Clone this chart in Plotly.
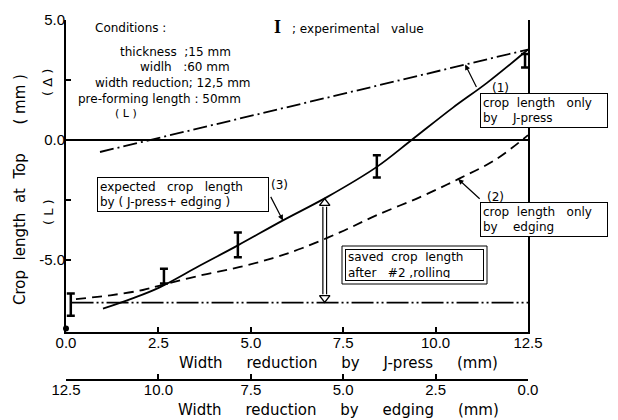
import plotly.graph_objects as go

# ---------------- data ----------------
jpress_ticks = [0, 2.5, 5, 7.5, 10, 12.5]
jpress_tick_labels = ["0.0", "2.5", "5.0", "7.5", "10.0", "12.5"]
edging_ticks = [12.5, 10, 7.5, 5, 2.5, 0]
edging_tick_labels = ["12.5", "10.0", "7.5", "5.0", "2.5", "0.0"]
y_ticks = [-5, -2.5, 0, 2.5, 5]
y_tick_labels = ["-5.0", "", "0.0", "", "5.0"]

# (1) crop length only by J-press (dash-dot)
jpress_x = [0.92, 12.5]
jpress_y = [-0.5, 3.77]

# (2) crop length only by edging (dashed)
edging_x = [0.27, 1.2, 2.08, 2.7, 3.7, 4.68, 5.6, 6.4, 7.41, 8.41, 9.58, 10.61, 11.61, 12.5]
edging_y = [-6.63, -6.47, -6.25, -6.0, -5.62, -5.3, -4.92, -4.5, -3.85, -3.13, -2.38, -1.63, -0.83, 0.2]

# (3) expected crop length by J-press + edging (solid)
expected_x = [1.0, 1.8, 2.52, 3.6, 4.65, 5.87, 7.06, 8.41, 9.35, 10.47, 11.39, 12.5]
expected_y = [-7.03, -6.6, -6.15, -5.25, -4.39, -3.35, -2.38, -1.12, 0.0, 1.35, 2.38, 3.77]

# experimental values (I)
exp_x = [0.13, 2.65, 4.65, 8.41, 12.42]
exp_y = [-6.86, -5.67, -4.37, -1.1, 3.3]
exp_err = [0.46, 0.31, 0.52, 0.46, 0.28]

# saved crop length level after #2 rolling
saved_level = -6.78
saved_x = [0.15, 12.5]
arrow_x = 7.0
arrow_top = -2.43

stray_x = [0.0]
stray_y = [-7.85]

# ---------------- layout helpers (pixel -> paper) ----------------
L, R, T, B = 66, 90, 20, 5
W, H = 618, 420
PW, PH = W - L - R, H - T - B


def px(xp):
    return (xp - L) / PW


def py(yp):
    return (H - B - yp) / PH


NB = "\u00a0"


def sp(n):
    return NB * n


fig = go.Figure()

fig.add_trace(go.Scatter(x=jpress_x, y=jpress_y, mode="lines",
                         line=dict(color="black", width=1.8, dash="14px,4px,2px,4px"),
                         showlegend=False, hoverinfo="skip"))
fig.add_trace(go.Scatter(x=edging_x, y=edging_y, mode="lines", line_shape="spline",
                         line=dict(color="black", width=1.8, dash="10px,6px"),
                         showlegend=False, hoverinfo="skip"))
fig.add_trace(go.Scatter(x=expected_x, y=expected_y, mode="lines", line_shape="spline",
                         line=dict(color="black", width=1.8),
                         showlegend=False, hoverinfo="skip"))
fig.add_trace(go.Scatter(x=saved_x, y=[saved_level, saved_level], mode="lines",
                         line=dict(color="black", width=1.8, dash="22px,3px,2px,3px,2px,3px"),
                         showlegend=False, hoverinfo="skip"))
fig.add_trace(go.Scatter(x=exp_x, y=exp_y, mode="markers",
                         marker=dict(size=1, color="black"),
                         error_y=dict(type="data", array=exp_err, visible=True,
                                      color="black", thickness=2.5, width=4),
                         showlegend=False, hoverinfo="skip", cliponaxis=False))
# double arrow "saved crop length"
for dx in (-0.05, 0.05):
    fig.add_trace(go.Scatter(x=[arrow_x + dx, arrow_x + dx], y=[arrow_top - 0.35, saved_level + 0.35],
                             mode="lines", line=dict(color="black", width=1.2),
                             showlegend=False, hoverinfo="skip"))
fig.add_trace(go.Scatter(x=[arrow_x, arrow_x], y=[arrow_top - 0.2, saved_level + 0.2], mode="markers",
                         marker=dict(symbol=["triangle-up-open", "triangle-down-open"], size=9,
                                     color="black", line=dict(width=1.4)),
                         showlegend=False, hoverinfo="skip"))
fig.add_trace(go.Scatter(x=stray_x, y=stray_y, mode="markers", marker=dict(size=6, color="black"),
                         showlegend=False, hoverinfo="skip", cliponaxis=False))
# invisible trace to show the edging axis
fig.add_trace(go.Scatter(x=[0], y=[0], xaxis="x2", mode="markers", marker=dict(opacity=0),
                         showlegend=False, hoverinfo="skip"))

tickfont = dict(family="Liberation Sans", size=15, color="black")
common = dict(ticks="inside", ticklen=5, tickwidth=1.5, tickcolor="black", showline=True,
              linecolor="black", showgrid=False, tickfont=tickfont, automargin=False,
              ticklabelstandoff=-4)
fig.update_layout(
    template="none",
    width=W, height=H,
    margin=dict(l=L, r=R, t=T, b=B, autoexpand=False),
    paper_bgcolor="white", plot_bgcolor="white",
    font=dict(family="DejaVu Sans", size=13, color="black"),
    xaxis=dict(range=[0, 12.5], domain=[0, 1], anchor="y", tickvals=jpress_ticks, ticktext=jpress_tick_labels,
               linewidth=2, zeroline=False, **common),
    xaxis2=dict(range=[12.5, 0], overlaying="x", anchor="free", position=py(380), side="bottom",
                tickvals=edging_ticks, ticktext=edging_tick_labels, linewidth=1.5, zeroline=False, **common),
    yaxis=dict(range=[-8.0, 5.0], domain=[py(332), 1], tickvals=y_ticks, ticktext=y_tick_labels,
               mirror=True, linewidth=2, zeroline=True, zerolinecolor="black", zerolinewidth=1.5, **common),
)

ann = []


def text(xp, yp, s, xanchor="left", size=13, family="DejaVu Sans", angle=0, **kw):
    ann.append(dict(x=px(xp), y=py(yp), xref="paper", yref="paper", text=s, showarrow=False,
                    xanchor=xanchor, yanchor="middle", textangle=angle,
                    font=dict(size=size, family=family, color="black"), **kw))


# axis titles
text(338, 363, "Width" + sp(5) + "reduction" + sp(5) + "by" + sp(5) + "J-press" + sp(5) + "(mm)",
     xanchor="center", size=15)
text(338, 410, "Width" + sp(5) + "reduction" + sp(5) + "by" + sp(5) + "edging" + sp(5) + "(mm)",
     xanchor="center", size=15)
text(20, 190, "Crop" + sp(2) + "length" + sp(2) + "at" + sp(2) + "Top" + sp(6) + "(" + sp(1) + "mm" + sp(1) + ")",
     xanchor="center", size=15, angle=-90)
text(48, 83, "(" + sp(1) + "Δ" + sp(1) + ")", xanchor="center", size=13, angle=-90)
text(48, 212, "(" + sp(1) + "L" + sp(1) + ")", xanchor="center", size=13, angle=-90)

# conditions
text(93, 28, "Conditions :", size=12)
text(118, 52, "thickness" + sp(2) + ";15 mm", size=12)
text(138, 67, "widlh" + sp(3) + ":60 mm", size=12)
text(93, 83, "width reduction; 12,5 mm", size=12)
text(76, 99, "pre-forming length : 50mm", size=12)
text(113, 113, "(" + sp(1) + "L" + sp(1) + ")", size=11)

# experimental value legend
text(272, 27, "<b>I</b>", size=18, family="Liberation Serif")
text(290, 29, ";" + sp(1) + "experimental" + sp(3) + "value", size=12)

# labels
text(490, 88, "(1)", size=12)
text(485, 197, "(2)", size=12)
text(269, 185, "(3)", size=12)


def box(x0, y0, x1, y1, s, pad=2):
    ann.append(dict(x=px(x0), y=py(y0), xref="paper", yref="paper", text=s, showarrow=False,
                    xanchor="left", yanchor="top", align="left", valign="middle",
                    width=(x1 - x0) - 2 * pad - 2, height=(y1 - y0) - 2 * pad - 2,
                    bordercolor="black", borderwidth=1, borderpad=pad, bgcolor="white",
                    font=dict(size=12, family="DejaVu Sans", color="black")))


box(480, 93, 608, 128, "crop" + sp(2) + "length" + sp(3) + "only<br>by" + sp(4) + "J-press")
box(480, 202, 608, 237, "crop" + sp(2) + "length" + sp(3) + "only<br>by" + sp(4) + "edging")
box(97, 177, 269, 212, "expected" + sp(3) + "crop" + sp(3) + "length<br>by ( J-press+ edging )")
box(345, 249, 484, 281, "saved" + sp(2) + "crop" + sp(2) + "length<br>after" + sp(3) + "#2 ,rolling")


# leader arrows (head on curve, tail near label)
def leader(xd, yd, ax, ay):
    ann.append(dict(x=xd, y=yd, xref="x", yref="y", text="", showarrow=True, ax=ax, ay=ay,
                    arrowhead=2, arrowsize=0.9, arrowwidth=1.2, arrowcolor="black"))


leader(10.8, jpress_y[0] + (10.8 - jpress_x[0]) * (jpress_y[1] - jpress_y[0]) / (jpress_x[1] - jpress_x[0]), 12, 24)
leader(expected_x[5], expected_y[5], -13, -25)
leader(edging_x[11], edging_y[11], 23, 21)

fig.update_layout(annotations=ann)
fig.add_shape(type="rect", xref="paper", yref="paper", x0=px(342), x1=px(487), y0=py(246), y1=py(284),
              line=dict(color="black", width=1))

fig.write_html("out.html", config={"displayModeBar": False},
               post_script="document.body.style.margin='0px';")
